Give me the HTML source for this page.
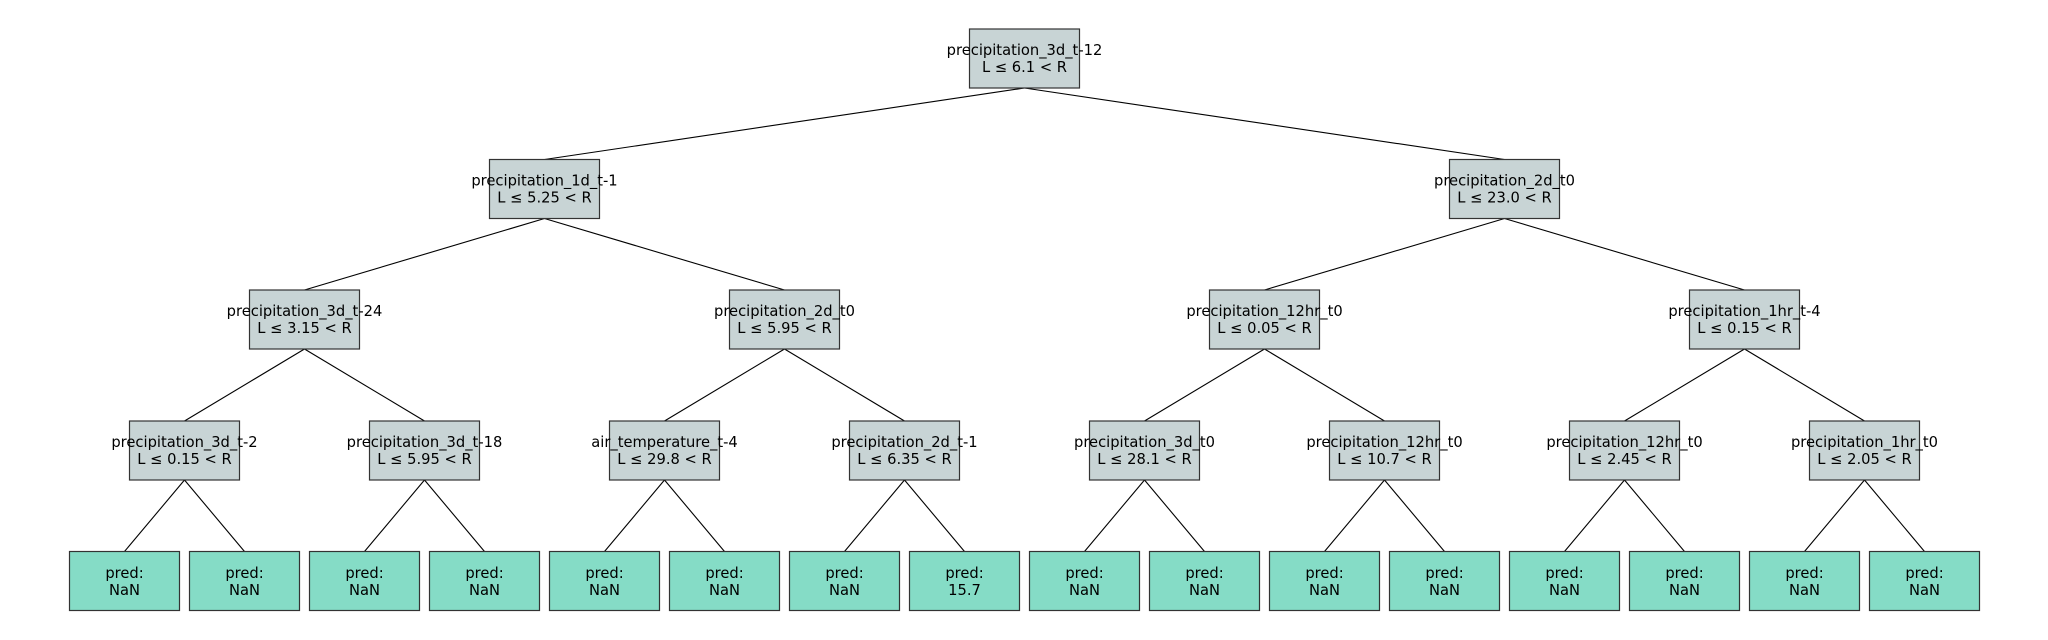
<!DOCTYPE html>
<html><head><meta charset="utf-8"><style>
html,body{margin:0;padding:0;background:#fff;width:2048px;height:640px;overflow:hidden}
svg text{font-family:"DejaVu Sans","Liberation Sans",sans-serif;font-size:14.7px;fill:#000;text-anchor:middle}
.i{fill:#c8d4d5;stroke:#333;stroke-width:1.2}
.l{fill:#85dcc6;stroke:#333;stroke-width:1.2}
line{stroke:#000;stroke-width:1.1}
</style></head><body>
<svg width="2048" height="640" viewBox="0 0 2048 640" xmlns="http://www.w3.org/2000/svg">
<g>
<line x1="1024.5" y1="88" x2="544.5" y2="159.5"/><line x1="1024.5" y1="88" x2="1504.5" y2="159.5"/>
<line x1="544.5" y1="218.5" x2="304.5" y2="290"/><line x1="544.5" y1="218.5" x2="784.5" y2="290"/>
<line x1="1504.5" y1="218.5" x2="1264.5" y2="290"/><line x1="1504.5" y1="218.5" x2="1744.5" y2="290"/>
<line x1="304.5" y1="349" x2="184.5" y2="421"/><line x1="304.5" y1="349" x2="424.5" y2="421"/>
<line x1="784.5" y1="349" x2="664.5" y2="421"/><line x1="784.5" y1="349" x2="904.5" y2="421"/>
<line x1="1264.5" y1="349" x2="1144.5" y2="421"/><line x1="1264.5" y1="349" x2="1384.5" y2="421"/>
<line x1="1744.5" y1="349" x2="1624.5" y2="421"/><line x1="1744.5" y1="349" x2="1864.5" y2="421"/>
<line x1="184.5" y1="480" x2="124.5" y2="551.5"/><line x1="184.5" y1="480" x2="244.5" y2="551.5"/>
<line x1="424.5" y1="480" x2="364.5" y2="551.5"/><line x1="424.5" y1="480" x2="484.5" y2="551.5"/>
<line x1="664.5" y1="480" x2="604.5" y2="551.5"/><line x1="664.5" y1="480" x2="724.5" y2="551.5"/>
<line x1="904.5" y1="480" x2="844.5" y2="551.5"/><line x1="904.5" y1="480" x2="964.5" y2="551.5"/>
<line x1="1144.5" y1="480" x2="1084.5" y2="551.5"/><line x1="1144.5" y1="480" x2="1204.5" y2="551.5"/>
<line x1="1384.5" y1="480" x2="1324.5" y2="551.5"/><line x1="1384.5" y1="480" x2="1444.5" y2="551.5"/>
<line x1="1624.5" y1="480" x2="1564.5" y2="551.5"/><line x1="1624.5" y1="480" x2="1684.5" y2="551.5"/>
<line x1="1864.5" y1="480" x2="1804.5" y2="551.5"/><line x1="1864.5" y1="480" x2="1924.5" y2="551.5"/>
</g>
<!-- internal nodes -->
<rect class="i" x="969.5" y="29" width="110" height="59"/><text x="1024.5" y="55">precipitation_3d_t-12</text><text x="1024.5" y="72">L ≤ 6.1 &lt; R</text>

<rect class="i" x="489.5" y="159.5" width="110" height="59"/><text x="544.5" y="185.5">precipitation_1d_t-1</text><text x="544.5" y="202.5">L ≤ 5.25 &lt; R</text>
<rect class="i" x="1449.5" y="159.5" width="110" height="59"/><text x="1504.5" y="185.5">precipitation_2d_t0</text><text x="1504.5" y="202.5">L ≤ 23.0 &lt; R</text>

<rect class="i" x="249.5" y="290" width="110" height="59"/><text x="304.5" y="316">precipitation_3d_t-24</text><text x="304.5" y="333">L ≤ 3.15 &lt; R</text>
<rect class="i" x="729.5" y="290" width="110" height="59"/><text x="784.5" y="316">precipitation_2d_t0</text><text x="784.5" y="333">L ≤ 5.95 &lt; R</text>
<rect class="i" x="1209.5" y="290" width="110" height="59"/><text x="1264.5" y="316">precipitation_12hr_t0</text><text x="1264.5" y="333">L ≤ 0.05 &lt; R</text>
<rect class="i" x="1689.5" y="290" width="110" height="59"/><text x="1744.5" y="316">precipitation_1hr_t-4</text><text x="1744.5" y="333">L ≤ 0.15 &lt; R</text>

<rect class="i" x="129.5" y="421" width="110" height="59"/><text x="184.5" y="447">precipitation_3d_t-2</text><text x="184.5" y="464">L ≤ 0.15 &lt; R</text>
<rect class="i" x="369.5" y="421" width="110" height="59"/><text x="424.5" y="447">precipitation_3d_t-18</text><text x="424.5" y="464">L ≤ 5.95 &lt; R</text>
<rect class="i" x="609.5" y="421" width="110" height="59"/><text x="664.5" y="447">air_temperature_t-4</text><text x="664.5" y="464">L ≤ 29.8 &lt; R</text>
<rect class="i" x="849.5" y="421" width="110" height="59"/><text x="904.5" y="447">precipitation_2d_t-1</text><text x="904.5" y="464">L ≤ 6.35 &lt; R</text>
<rect class="i" x="1089.5" y="421" width="110" height="59"/><text x="1144.5" y="447">precipitation_3d_t0</text><text x="1144.5" y="464">L ≤ 28.1 &lt; R</text>
<rect class="i" x="1329.5" y="421" width="110" height="59"/><text x="1384.5" y="447">precipitation_12hr_t0</text><text x="1384.5" y="464">L ≤ 10.7 &lt; R</text>
<rect class="i" x="1569.5" y="421" width="110" height="59"/><text x="1624.5" y="447">precipitation_12hr_t0</text><text x="1624.5" y="464">L ≤ 2.45 &lt; R</text>
<rect class="i" x="1809.5" y="421" width="110" height="59"/><text x="1864.5" y="447">precipitation_1hr_t0</text><text x="1864.5" y="464">L ≤ 2.05 &lt; R</text>

<!-- leaves -->
<rect class="l" x="69.5" y="551.5" width="110" height="59"/><text x="124.5" y="578">pred:</text><text x="124.5" y="595">NaN</text>
<rect class="l" x="189.5" y="551.5" width="110" height="59"/><text x="244.5" y="578">pred:</text><text x="244.5" y="595">NaN</text>
<rect class="l" x="309.5" y="551.5" width="110" height="59"/><text x="364.5" y="578">pred:</text><text x="364.5" y="595">NaN</text>
<rect class="l" x="429.5" y="551.5" width="110" height="59"/><text x="484.5" y="578">pred:</text><text x="484.5" y="595">NaN</text>
<rect class="l" x="549.5" y="551.5" width="110" height="59"/><text x="604.5" y="578">pred:</text><text x="604.5" y="595">NaN</text>
<rect class="l" x="669.5" y="551.5" width="110" height="59"/><text x="724.5" y="578">pred:</text><text x="724.5" y="595">NaN</text>
<rect class="l" x="789.5" y="551.5" width="110" height="59"/><text x="844.5" y="578">pred:</text><text x="844.5" y="595">NaN</text>
<rect class="l" x="909.5" y="551.5" width="110" height="59"/><text x="964.5" y="578">pred:</text><text x="964.5" y="595">15.7</text>
<rect class="l" x="1029.5" y="551.5" width="110" height="59"/><text x="1084.5" y="578">pred:</text><text x="1084.5" y="595">NaN</text>
<rect class="l" x="1149.5" y="551.5" width="110" height="59"/><text x="1204.5" y="578">pred:</text><text x="1204.5" y="595">NaN</text>
<rect class="l" x="1269.5" y="551.5" width="110" height="59"/><text x="1324.5" y="578">pred:</text><text x="1324.5" y="595">NaN</text>
<rect class="l" x="1389.5" y="551.5" width="110" height="59"/><text x="1444.5" y="578">pred:</text><text x="1444.5" y="595">NaN</text>
<rect class="l" x="1509.5" y="551.5" width="110" height="59"/><text x="1564.5" y="578">pred:</text><text x="1564.5" y="595">NaN</text>
<rect class="l" x="1629.5" y="551.5" width="110" height="59"/><text x="1684.5" y="578">pred:</text><text x="1684.5" y="595">NaN</text>
<rect class="l" x="1749.5" y="551.5" width="110" height="59"/><text x="1804.5" y="578">pred:</text><text x="1804.5" y="595">NaN</text>
<rect class="l" x="1869.5" y="551.5" width="110" height="59"/><text x="1924.5" y="578">pred:</text><text x="1924.5" y="595">NaN</text>
</svg>
</body></html>
